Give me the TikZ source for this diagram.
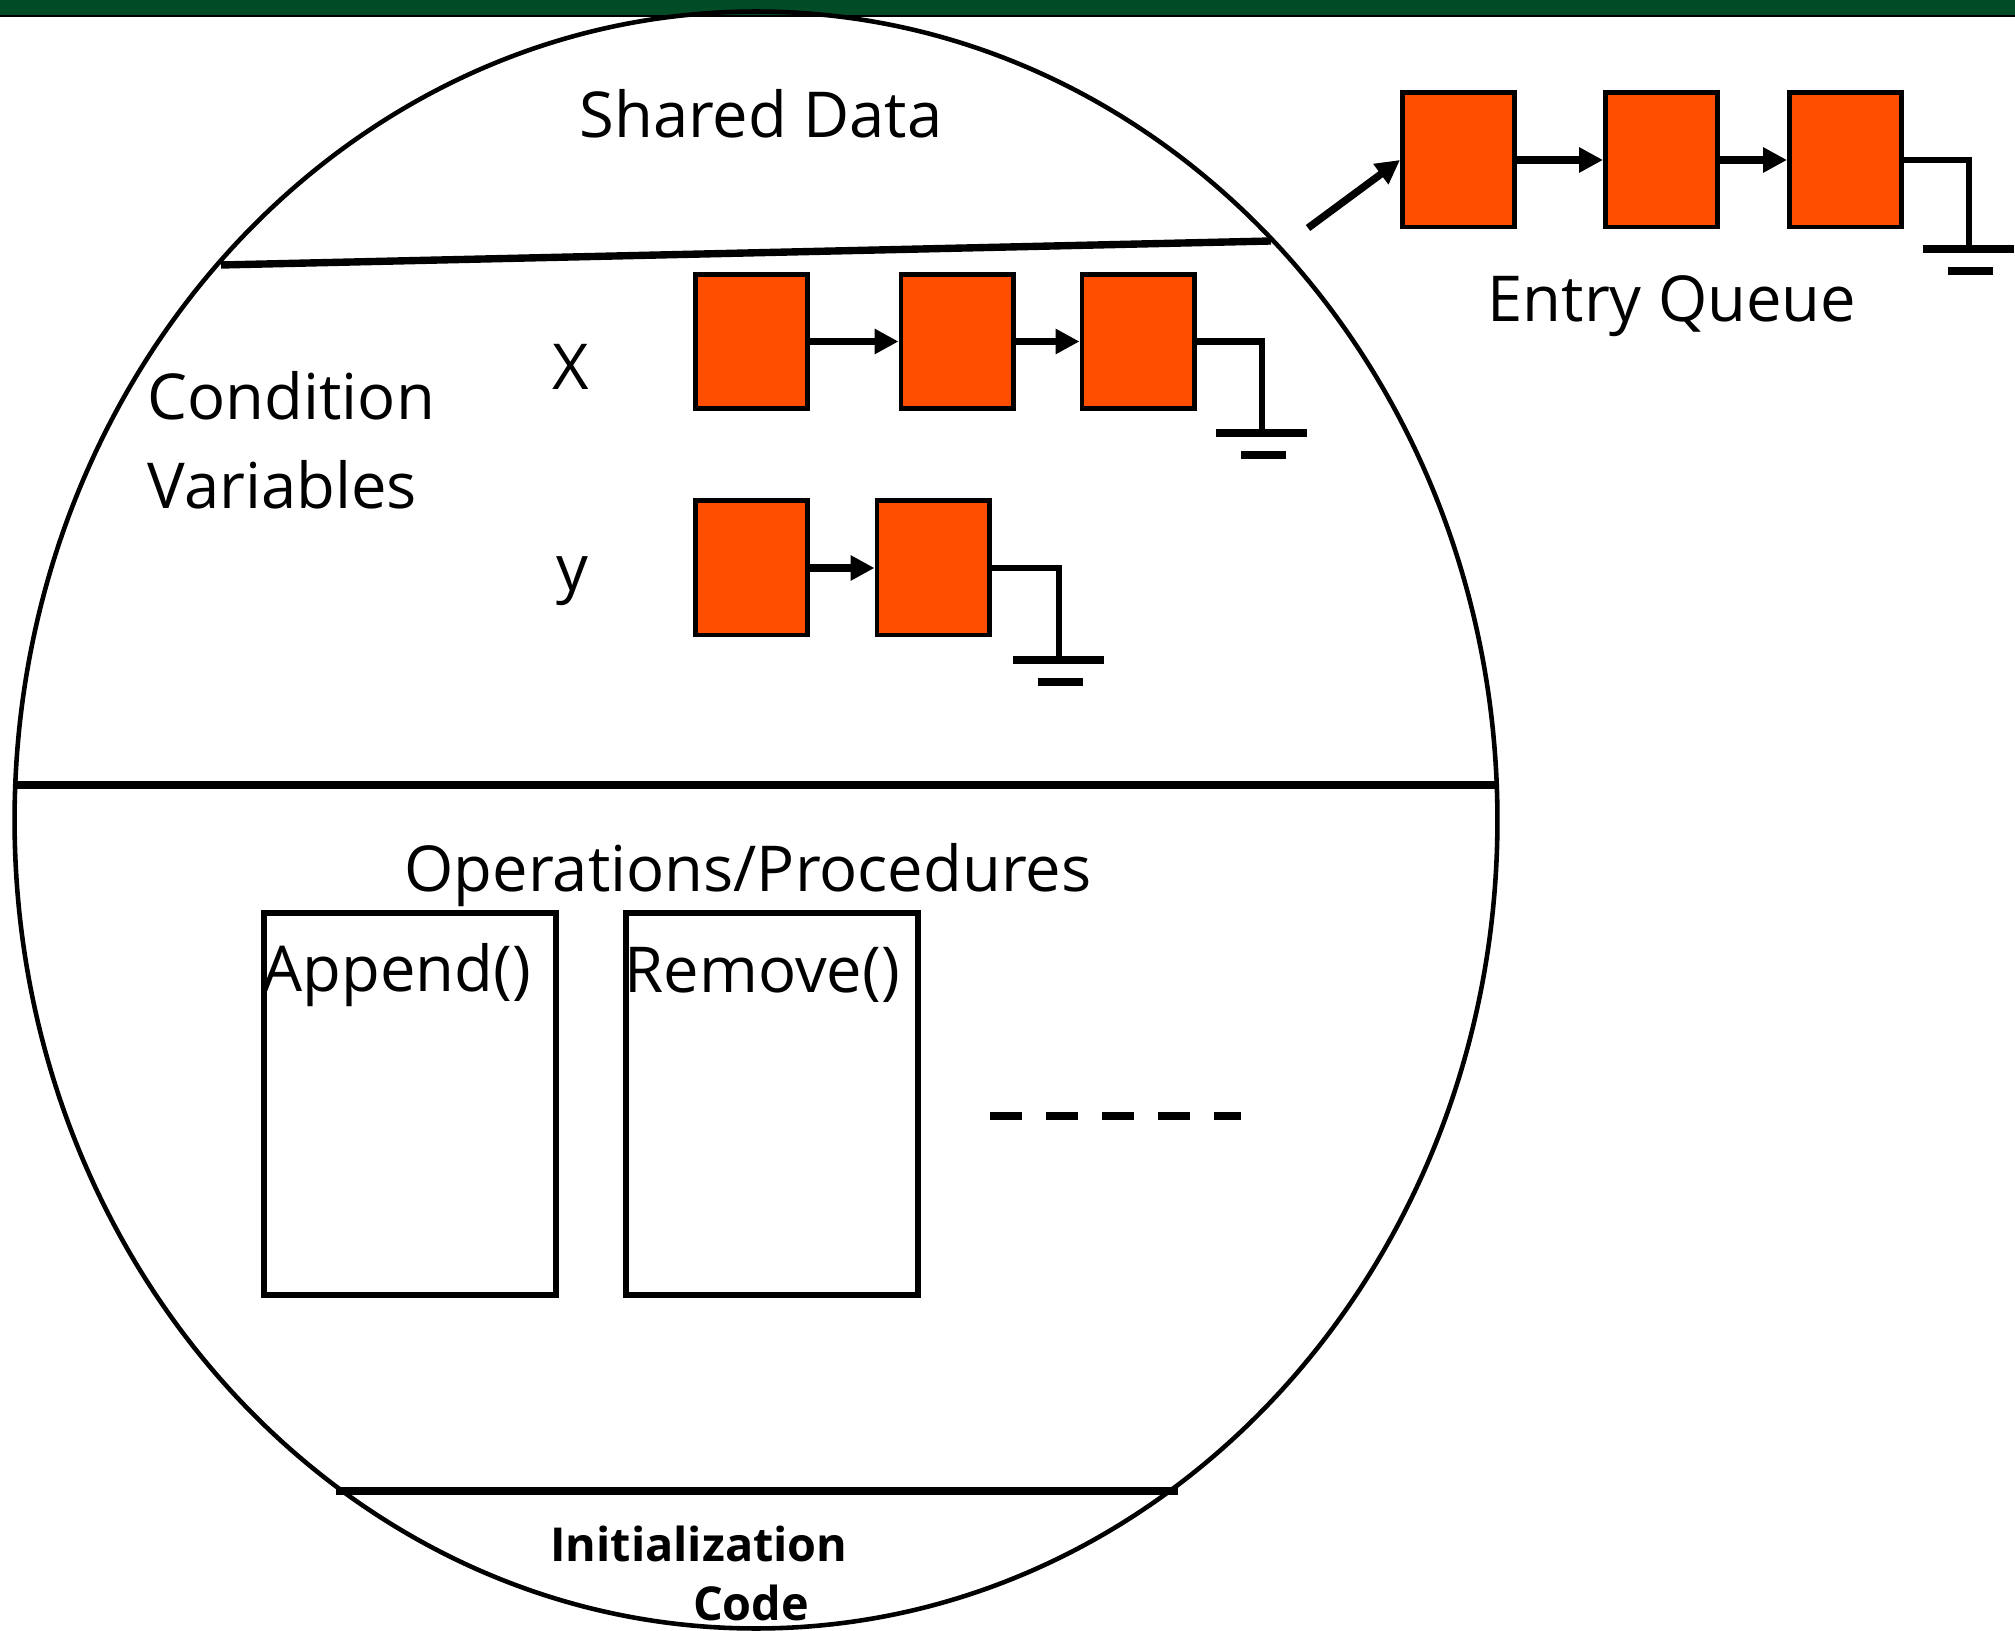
\documentclass[tikz,border=0pt]{standalone}
\usepackage{fontspec}
\setmainfont{Open Sans}
\usetikzlibrary{arrows.meta}
\definecolor{barGreen}{RGB}{1,75,38}
\definecolor{nodeOrange}{RGB}{255,78,0}
\tikzset{
  qbox/.style={draw=black, fill=nodeOrange, line width=1.4pt,
    minimum width=1.12cm, minimum height=1.34cm, inner sep=0pt},
  opbox/.style={draw=black, line width=1.7pt,
    minimum width=2.92cm, minimum height=3.82cm, inner sep=0pt},
  link/.style={line width=2.1pt, -{Triangle[length=6.8pt,width=6.8pt]}},
  wire/.style={line width=1.8pt},
  divider/.style={line width=2.1pt},
  lbl/.style={inner sep=0pt, font=\fontsize{18}{22}\selectfont},
  boldlbl/.style={inner sep=0pt, font=\fontsize{13.3}{16}\selectfont\bfseries},
  ground/.pic={
    \draw[line width=2.3pt] (-46,0) -- (45,0);
    \draw[line width=2.3pt] (-21,22) -- (24,22);
  }
}
\begin{document}
\begin{tikzpicture}[x=0.01cm, y=-0.01cm]
\useasboundingbox (0,0) rectangle (2015,1631);

% title bar
\fill[barGreen] (0,0) rectangle (2015,15.5);
\fill[black] (0,15.5) rectangle (2015,17);

% monitor outline and its sections
\draw[line width=1.3pt] (756,820) ellipse [x radius=7.41cm, y radius=8.08cm];
\draw[divider] (221,265) -- (1271,241);
\draw[divider] (15,785) -- (1497,785);
\draw[divider] (336,1491) -- (1178,1491);

% section labels
\node[lbl, anchor=base] (shared) at (761,138) {Shared Data};
\node[lbl, anchor=base west] (cond) at (147,420) {Condition};
\node[lbl, anchor=base west] (vars) at (147,509) {Variables};
\node[lbl, anchor=base] (xlab) at (571,390) {X};
\node[lbl, anchor=base] (ylab) at (572,591) {y};
\node[lbl, anchor=base] (ops) at (748,891) {Operations/Procedures};
\node[boldlbl, anchor=base] (init) at (699,1561) {Initialization};
\node[boldlbl, anchor=base] (code) at (751,1620) {Code};

% condition variable x queue
\node[qbox] (x1) at (751.5,341.5) {};
\node[qbox] (x2) at (957,341.5) {};
\node[qbox] (x3) at (1138,341.5) {};
\draw[link] (x1) -- (x2);
\draw[link] (x2) -- (x3);
\coordinate (xg) at (1262,433);
\draw[wire] (x3.east) -| (xg);
\pic at (xg) {ground};

% condition variable y queue
\node[qbox] (y1) at (751.5,568) {};
\node[qbox] (y2) at (933,568) {};
\draw[link] (y1) -- (y2);
\coordinate (yg) at (1059,660);
\draw[wire] (y2.east) -| (yg);
\pic at (yg) {ground};

% entry queue
\node[qbox] (e1) at (1458.5,160) {};
\node[qbox] (e2) at (1661.5,160) {};
\node[qbox] (e3) at (1845.5,160) {};
\draw[link] (e1) -- (e2);
\draw[link] (e2) -- (e3);
\coordinate (eg) at (1969,249);
\draw[wire] (e3.east) -| (eg);
\pic at (eg) {ground};
\coordinate (etail) at (1308,228);
\draw[link] (etail) -- (e1.west);
\node[lbl, anchor=base] (entry) at (1672,322) {Entry Queue};

% procedures
\node[opbox] (append) at (410,1104) {};
\node[opbox] (remove) at (772,1104) {};
\node[lbl, anchor=base west] (appendlbl) at (262,991) {Append()};
\node[lbl, anchor=base west] (removelbl) at (624,992) {Remove()};
\draw[line width=2.3pt, dash pattern=on 9.1pt off 6.83pt] (990,1116) -- (1241,1116);
\end{tikzpicture}
\end{document}
